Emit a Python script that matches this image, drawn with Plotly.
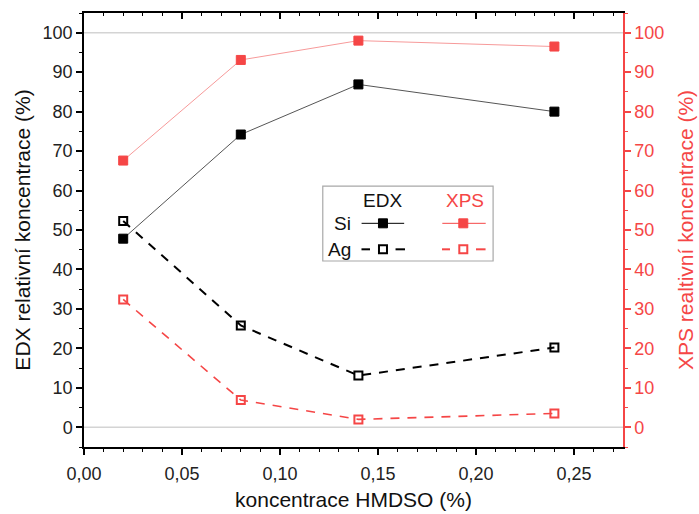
import plotly.graph_objects as go

# Data
x_hmdso = [0.02, 0.08, 0.14, 0.24]
edx_si = [47.8, 74.2, 86.9, 80.0]
edx_ag = [52.3, 25.8, 13.1, 20.2]
xps_si = [67.6, 93.1, 98.0, 96.5]
xps_ag = [32.4, 6.9, 2.0, 3.5]

BLACK = "#000000"
RED = "#f54646"
FONT = "Liberation Sans, Arial, sans-serif"

fig = go.Figure()

fig.add_trace(go.Scatter(x=x_hmdso, y=edx_si, mode="lines+markers", name="EDX Si",
                         line=dict(color="#555555", width=1),
                         marker=dict(symbol="square", size=9, color=BLACK,
                                     line=dict(color=BLACK, width=1)),
                         showlegend=False))
fig.add_trace(go.Scatter(x=x_hmdso, y=edx_ag, mode="lines+markers", name="EDX Ag",
                         line=dict(color=BLACK, width=2, dash="9px,8px"),
                         marker=dict(symbol="square-open", size=8, color=BLACK,
                                     line=dict(color=BLACK, width=2)),
                         showlegend=False))
fig.add_trace(go.Scatter(x=x_hmdso, y=xps_si, mode="lines+markers", name="XPS Si",
                         line=dict(color="#f79a9a", width=1),
                         marker=dict(symbol="square", size=9, color=RED,
                                     line=dict(color=RED, width=1)),
                         yaxis="y2", showlegend=False))
fig.add_trace(go.Scatter(x=x_hmdso, y=xps_ag, mode="lines+markers", name="XPS Ag",
                         line=dict(color=RED, width=1.6, dash="9px,8px"),
                         marker=dict(symbol="square-open", size=8, color=RED,
                                     line=dict(color=RED, width=2)),
                         yaxis="y2", showlegend=False))
# invisible trace so the top axis is drawn
fig.add_trace(go.Scatter(x=[None], y=[None], xaxis="x2", yaxis="y",
                         showlegend=False, hoverinfo="skip"))

shapes = []
# reference lines at 0 and 100
for yv in (0, 100):
    shapes.append(dict(type="line", xref="paper", yref="y", x0=0, x1=1, y0=yv, y1=yv,
                       line=dict(color="#d4d4d4", width=1.5), layer="below"))

# Legend box
shapes.append(dict(type="rect", xref="paper", yref="paper", x0=0.443, x1=0.759,
                   y0=0.4286, y1=0.601, line=dict(color="#a8a8a8", width=1.2),
                   fillcolor="white"))
row_si = 0.5154
row_ag = 0.4555
# Si samples
shapes.append(dict(type="line", xref="paper", yref="paper", x0=0.515, x1=0.594,
                   y0=row_si, y1=row_si, line=dict(color=BLACK, width=1)))
shapes.append(dict(type="line", xref="paper", yref="paper", x0=0.6648, x1=0.7453,
                   y0=row_si, y1=row_si, line=dict(color=RED, width=1)))
# Ag dashed samples
for a, b, c in [(0.5148, 0.5306, BLACK), (0.578, 0.5955, BLACK),
                (0.6642, 0.679, RED), (0.7273, 0.745, RED)]:
    shapes.append(dict(type="line", xref="paper", yref="paper", x0=a, x1=b,
                       y0=row_ag, y1=row_ag, line=dict(color=c, width=2)))
# Marker samples
for xc, yc, col, filled in [(0.5547, row_si, BLACK, True), (0.7037, row_si, RED, True),
                            (0.5547, row_ag, BLACK, False), (0.7037, row_ag, RED, False)]:
    half = 4.5 if filled else 4
    shapes.append(dict(type="rect", xref="paper", yref="paper",
                       xsizemode="pixel", ysizemode="pixel", xanchor=xc, yanchor=yc,
                       x0=-half, x1=half, y0=-half, y1=half,
                       line=dict(color=col, width=1 if filled else 2),
                       fillcolor=col if filled else "white"))

annotations = [
    dict(text="EDX", x=0.5547, y=0.5675, xref="paper", yref="paper", showarrow=False,
         font=dict(size=19, color="#111111", family=FONT), xanchor="center", yanchor="middle"),
    dict(text="XPS", x=0.7075, y=0.5675, xref="paper", yref="paper", showarrow=False,
         font=dict(size=19, color=RED, family=FONT), xanchor="center", yanchor="middle"),
    dict(text="Si", x=0.4995, y=row_si, xref="paper", yref="paper", showarrow=False,
         font=dict(size=19, color="#111111", family=FONT), xanchor="right", yanchor="middle"),
    dict(text="Ag", x=0.4995, y=row_ag, xref="paper", yref="paper", showarrow=False,
         font=dict(size=19, color="#111111", family=FONT), xanchor="right", yanchor="middle"),
]

xr = [0, 0.275]
yr = [-5, 105]

fig.update_layout(
    width=699, height=514,
    margin=dict(l=84, r=76, t=13, b=67, autoexpand=False),
    paper_bgcolor="white", plot_bgcolor="white",
    separators=",.",
    font=dict(family=FONT, size=18, color="#222222"),
    shapes=shapes, annotations=annotations,
    xaxis=dict(range=xr, tickformat=".2f", dtick=0.05, tick0=0, automargin=False,
               ticks="outside", ticklen=6, tickwidth=1.5, tickcolor=BLACK,
               minor=dict(dtick=0.01, ticks="outside", ticklen=3, tickwidth=1.2, tickcolor=BLACK),
               showline=True, linecolor=BLACK, linewidth=1.5, showgrid=False, zeroline=False,
               tickfont=dict(size=18, color="#222222"), ticklabelstandoff=4,
               title=dict(text="koncentrace HMDSO (%)", font=dict(size=21, color="#111111"), standoff=9)),
    xaxis2=dict(range=xr, overlaying="x", side="top", anchor="y", dtick=0.05, tick0=0,
                automargin=False,
                ticks="inside", ticklen=6, tickwidth=1.5, tickcolor=BLACK,
                minor=dict(dtick=0.01, ticks="inside", ticklen=3, tickwidth=1.2, tickcolor=BLACK),
                showticklabels=False, showline=True, linecolor=BLACK, linewidth=1.5,
                showgrid=False, zeroline=False),
    yaxis=dict(range=yr, dtick=10, tick0=0, ticks="outside", ticklen=6, tickwidth=1.5,
               tickcolor=BLACK, automargin=False,
               minor=dict(dtick=5, tick0=0, ticks="outside", ticklen=3, tickwidth=1.2, tickcolor=BLACK),
               showline=True, linecolor=BLACK, linewidth=1.5, showgrid=False, zeroline=False,
               tickfont=dict(size=18, color="#222222"),
               title=dict(text="EDX relativní koncentrace (%)", font=dict(size=21, color="#111111"), standoff=6)),
    yaxis2=dict(range=yr, overlaying="y", side="right", dtick=10, tick0=0,
                automargin=False,
                ticks="outside", ticklen=6, tickwidth=1.5, tickcolor=RED,
                minor=dict(dtick=5, tick0=0, ticks="outside", ticklen=3, tickwidth=1.2, tickcolor=RED),
                showline=True, linecolor=RED, linewidth=1.5, showgrid=False, zeroline=False,
                tickfont=dict(size=18, color=RED),
                title=dict(text="XPS realtivní koncentrace (%)", font=dict(size=21, color=RED), standoff=15)),
)

fig.write_html("out.html", config={"displayModeBar": False},
               post_script="document.body.style.margin='0px';")
